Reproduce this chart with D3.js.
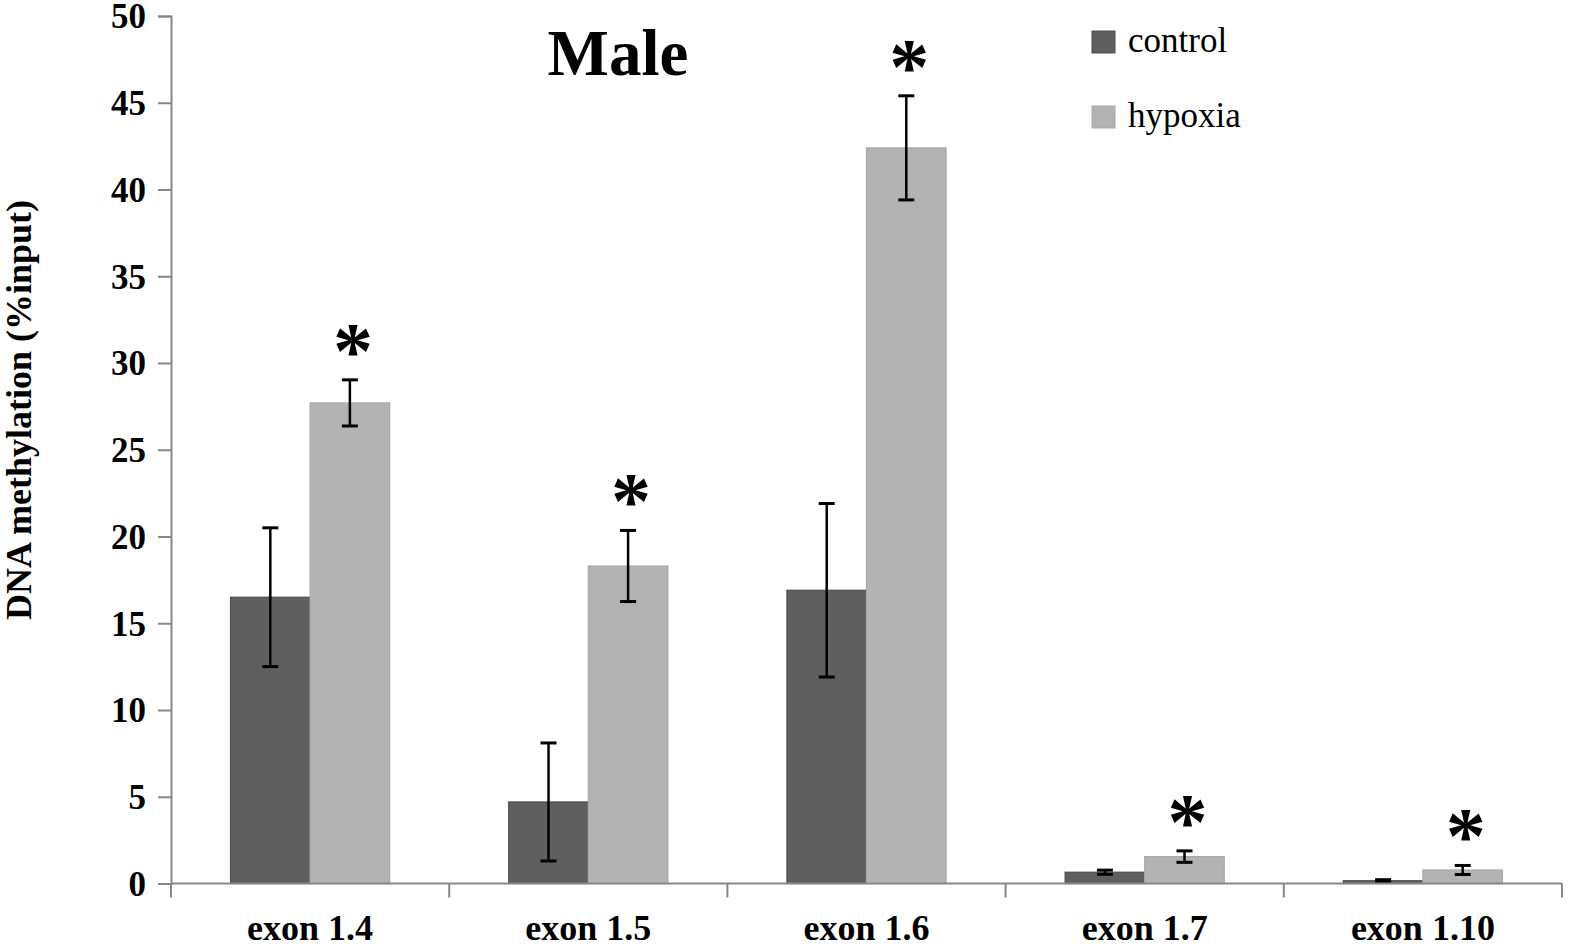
<!DOCTYPE html>
<html>
<head>
<meta charset="utf-8">
<script src="https://cdn.jsdelivr.net/npm/d3@7/dist/d3.min.js"></script>
<style>
  html, body { margin: 0; padding: 0; background: #fff; }
  svg { display: block; }
</style>
</head>
<body>
<svg id="chart" width="1578" height="950"></svg>
<script>
const categories = ["exon 1.4", "exon 1.5", "exon 1.6", "exon 1.7", "exon 1.10"];
const seriesNames = ["control", "hypoxia"];
const controlValues = [16.5, 4.7, 16.9, 0.65, 0.16];
const controlErrors = [4.0, 3.4, 5.0, 0.12, 0.06];
const hypoxiaValues = [27.7, 18.3, 42.4, 1.55, 0.78];
const hypoxiaErrors = [1.33, 2.05, 3.0, 0.33, 0.26];
const hypoxiaSignificant = [true, true, true, true, true];
const yTicks = [0, 5, 10, 15, 20, 25, 30, 35, 40, 45, 50];
const titleText = "Male";
const yLabel = "DNA methylation (%input)";

const colors = { control: "#5f5f5f", hypoxia: "#b3b3b3" };
const strokes = { control: "#4d4d4d", hypoxia: "#a9a9a9" };

const svg = d3.select("#chart");
const serif = "'Liberation Serif', 'Times New Roman', serif";

const x0 = d3.scaleBand().domain(categories).range([171, 1562])
  .paddingInner(0.428).paddingOuter(0.214);
const x1 = d3.scaleBand().domain(seriesNames).range([0, x0.bandwidth()]);
const y = d3.scaleLinear().domain([0, 50]).range([883.5, 16]);

const rows = categories.map((c, i) => ({
  cat: c,
  items: [
    { s: "control", v: controlValues[i], e: controlErrors[i], sig: false },
    { s: "hypoxia", v: hypoxiaValues[i], e: hypoxiaErrors[i], sig: hypoxiaSignificant[i] }
  ]
}));

// bars
const g = svg.append("g");
const groups = g.selectAll("g.cat").data(rows).join("g")
  .attr("transform", d => `translate(${x0(d.cat)},0)`);

groups.selectAll("rect").data(d => d.items).join("rect")
  .attr("x", d => x1(d.s))
  .attr("y", d => y(d.v))
  .attr("width", x1.bandwidth())
  .attr("height", d => y(0) - y(d.v))
  .attr("fill", d => colors[d.s])
  .attr("stroke", d => strokes[d.s])
  .attr("stroke-width", 1.2);

// axes
const xAxisG = svg.append("g").attr("transform", `translate(0,${y(0)})`);
xAxisG.append("line")
  .attr("x1", 171).attr("x2", 1562).attr("y1", 0).attr("y2", 0)
  .attr("stroke", "#878787").attr("stroke-width", 2);
const boundaries = categories.map(c => x0(c) - x0.step() * 0.214).concat([1562]);
xAxisG.selectAll("line.tick").data(boundaries).join("line")
  .attr("class", "tick")
  .attr("x1", d => d).attr("x2", d => d).attr("y1", 0).attr("y2", 14)
  .attr("stroke", "#878787").attr("stroke-width", 2);
xAxisG.selectAll("text.lab").data(categories).join("text")
  .attr("class", "lab")
  .attr("x", d => x0(d) + x0.bandwidth() / 2)
  .attr("y", 56)
  .attr("text-anchor", "middle")
  .attr("font-family", serif).attr("font-weight", "bold").attr("font-size", 36)
  .attr("fill", "#000")
  .text(d => d);

const yAxis = d3.axisLeft(y).tickValues(yTicks).tickSize(13).tickPadding(12);
const yAxisG = svg.append("g").attr("transform", "translate(171,0)").call(yAxis);
yAxisG.select(".domain").attr("stroke", "#878787").attr("stroke-width", 2);
yAxisG.selectAll(".tick line").attr("stroke", "#878787").attr("stroke-width", 2);
yAxisG.selectAll(".tick text")
  .attr("font-family", serif).attr("font-weight", "bold").attr("font-size", 35)
  .attr("dy", "0.34em")
  .attr("fill", "#000");

// error bars
const errG = groups.selectAll("g.err").data(d => d.items).join("g").attr("class", "err");
errG.append("line")
  .attr("x1", d => x1(d.s) + x1.bandwidth() / 2)
  .attr("x2", d => x1(d.s) + x1.bandwidth() / 2)
  .attr("y1", d => y(d.v + d.e)).attr("y2", d => y(d.v - d.e))
  .attr("stroke", "#000").attr("stroke-width", 2.5);
errG.append("line")
  .attr("x1", d => x1(d.s) + x1.bandwidth() / 2 - 8)
  .attr("x2", d => x1(d.s) + x1.bandwidth() / 2 + 8)
  .attr("y1", d => y(d.v + d.e)).attr("y2", d => y(d.v + d.e))
  .attr("stroke", "#000").attr("stroke-width", 3);
errG.append("line")
  .attr("x1", d => x1(d.s) + x1.bandwidth() / 2 - 8)
  .attr("x2", d => x1(d.s) + x1.bandwidth() / 2 + 8)
  .attr("y1", d => y(d.v - d.e)).attr("y2", d => y(d.v - d.e))
  .attr("stroke", "#000").attr("stroke-width", 3);

// significance asterisks
groups.selectAll("text.sig").data(d => d.items.filter(it => it.sig)).join("text")
  .attr("class", "sig")
  .attr("x", d => x1(d.s) + x1.bandwidth() / 2 + 3)
  .attr("y", d => y(d.v + d.e) - 40 + 38)
  .attr("text-anchor", "middle")
  .attr("font-family", serif).attr("font-weight", "bold").attr("font-size", 80)
  .attr("fill", "#000")
  .text("*");

// title
svg.append("text")
  .attr("x", 618).attr("y", 75)
  .attr("text-anchor", "middle")
  .attr("font-family", serif).attr("font-weight", "bold").attr("font-size", 65)
  .attr("fill", "#000")
  .text(titleText);

// y label
svg.append("text")
  .attr("transform", "translate(31,410) rotate(-90)")
  .attr("text-anchor", "middle")
  .attr("font-family", serif).attr("font-weight", "bold").attr("font-size", 36)
  .attr("fill", "#000")
  .text(yLabel);

// legend
const legend = svg.append("g");
const legendY = [31, 106];
seriesNames.forEach((s, i) => {
  legend.append("rect")
    .attr("x", 1092).attr("y", legendY[i]).attr("width", 23).attr("height", 22)
    .attr("fill", colors[s]).attr("stroke", strokes[s]).attr("stroke-width", 1);
  legend.append("text")
    .attr("x", 1128).attr("y", legendY[i] + 21)
    .attr("font-family", serif).attr("font-size", 35)
    .attr("fill", "#000")
    .text(s);
});
</script>
</body>
</html>
